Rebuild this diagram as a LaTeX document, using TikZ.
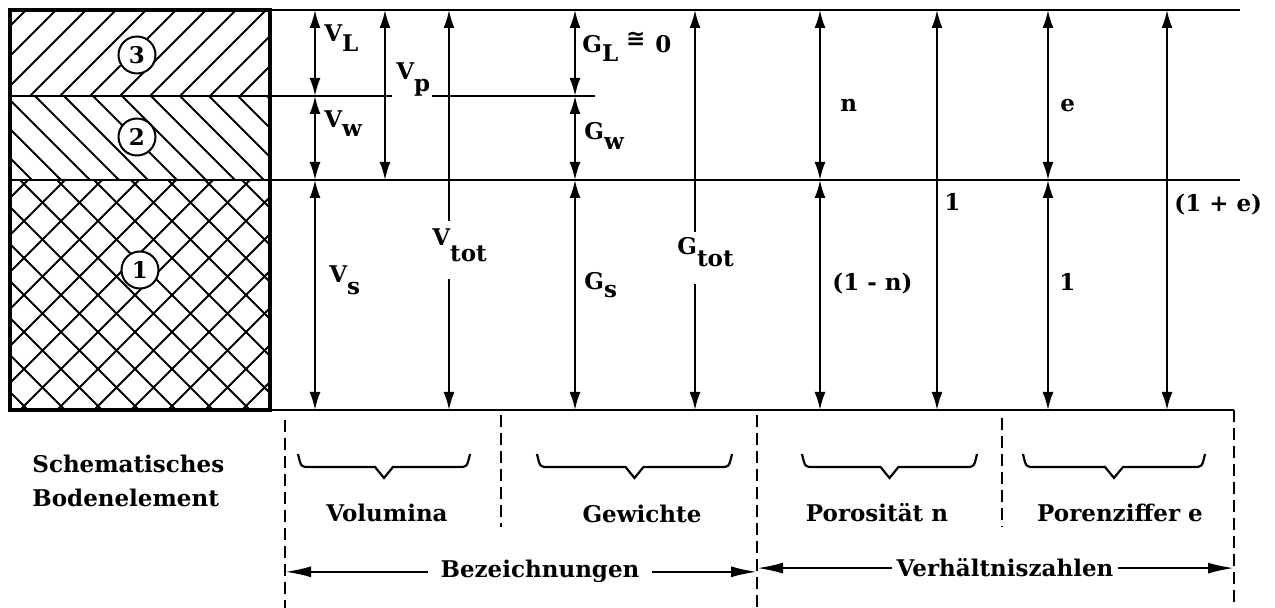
\documentclass[tikz,border=0pt]{standalone}
\usepackage{fontspec}
\setmainfont{DejaVu Serif}
\newfontfamily\symfont{DejaVu Sans}
\usetikzlibrary{arrows.meta}

% lowered index, typed like on the original sheet
\newcommand{\lo}[2][5pt]{\raisebox{-#1}{#2}}

\begin{document}
\begin{tikzpicture}[%
    x=0.5pt, y=-0.5pt,
    >={Latex[length=9pt,width=5.5pt]},
    every node/.style={font=\fontsize{11.5}{17}\selectfont\bfseries, inner sep=1pt},
    rule/.style={line width=1.1pt},
    hatch/.style={line width=1pt},
    dim/.style={<->, line width=1pt},
    part/.style={circle, draw, fill=white, line width=1pt, minimum size=18.5pt, inner sep=0pt},
    sep/.style={line width=1.1pt, dash pattern=on 6pt off 3pt},
    span/.style={-{Latex[length=13pt,width=5.5pt]}, line width=1.1pt}
]
\useasboundingbox (0,0) rectangle (1275,608);

% hatching: air, water, solids
\begin{scope}
    \clip (10,10) rectangle (270,96);
    \foreach \k in {-3,...,10}
        \draw[hatch] (\k*30,96) -- ++(90,-90);
\end{scope}
\begin{scope}
    \clip (10,96) rectangle (270,180);
    \foreach \k in {-4,...,10}
        \draw[hatch] (\k*29,90) -- ++(100,100);
\end{scope}
\begin{scope}
    \clip (10,180) rectangle (270,410);
    \foreach \k in {-7,...,8} {
        \draw[hatch] (\k*37+10,170) -- ++(250,250);
        \draw[hatch] (\k*37+10,420) -- ++(250,-250);
    }
\end{scope}

% soil element
\draw[line width=2.2pt] (10,10) rectangle (270,410);
\node[part] (p3) at (137,55) {3};
\node[part] (p2) at (137,137) {2};
\node[part] (p1) at (140,270) {1};

% level lines
\draw[rule] (270,10) -- (1240,10);
\draw[rule] (10,180) -- (1240,180);
\draw[rule] (270,410) -- (1234,410);
\draw[rule] (10,96) -- (392,96);
\draw[rule] (432,96) -- (595,96);

% columns
\foreach \c/\x in {v/315, vp/385, vt/449, g/575, gt/695, n/820, one/937, e/1048, oe/1167} {
    \coordinate (\c-t) at (\x,10);
    \coordinate (\c-w) at (\x,96);
    \coordinate (\c-m) at (\x,180);
    \coordinate (\c-b) at (\x,410);
}

% labels
\node[anchor=base west] (VL) at (322,42) {V\lo{L}};
\node[anchor=base west] (Vw) at (322,128) {V\lo[4.5pt]{w}};
\node[anchor=base west] (Vs) at (327,283) {V\lo[6pt]{s}};
\node[anchor=base west] (Vp) at (394,80) {V\lo[6pt]{p}};
\node[anchor=base west] (Vtot) at (430,246) {V\lo[8pt]{tot}};
\node[anchor=base west] (GL) at (580,53)
    {G\lo[4.5pt]{L}\hspace{4pt}\raisebox{3pt}{\symfont ≅}\hspace{5pt}0};
\node[anchor=base west] (Gw) at (582,140) {G\lo[5pt]{w}};
\node[anchor=base west] (Gs) at (582,290) {G\lo[4pt]{s}};
\node[anchor=base west] (Gtot) at (675,255) {G\lo[6pt]{tot}};
\node[anchor=base west] (ln) at (838,112) {n};
\node[anchor=base west] (le) at (1058,112) {e};
\node[anchor=base west] (l1n) at (830,291) {(1 - n)};
\node[anchor=base west] (l1a) at (942,211) {1};
\node[anchor=base west] (l1b) at (1057,291) {1};
\node[anchor=base west] (l1e) at (1172,212) {(1 + e)};

% dimension arrows
\foreach \c/\a/\b in {v/t/w, v/w/m, v/m/b, vp/t/m, g/t/w, g/w/m, g/m/b,
                      n/t/m, n/m/b, one/t/b, e/t/m, e/m/b, oe/t/b}
    \draw[dim] (\c-\a) -- (\c-\b);
\draw[->, line width=1pt] ([yshift=3pt]Vtot.north -| vt-t) -- (vt-t);
\draw[->, line width=1pt] ([yshift=-7pt]Vtot.south -| vt-b) -- (vt-b);
\draw[->, line width=1pt] ([yshift=2pt]Gtot.north -| gt-t) -- (gt-t);
\draw[->, line width=1pt] ([yshift=-7pt]Gtot.south -| gt-b) -- (gt-b);

% separators below
\foreach \d/\x/\ya/\yb in {d1/285/420/608, d2/501/415/527, d3/757/415/608,
                           d4/1002/418/527, d5/1234/410/608} {
    \coordinate (\d-t) at (\x,\ya);
    \coordinate (\d-b) at (\x,\yb);
    \draw[sep] (\d-t) -- (\d-b);
}

% braces
\foreach \a/\b in {298/470, 537/732, 802/977, 1023/1205}
    \draw[line width=1.1pt] (\a,454) .. controls (\a+3,467) .. (\a+11,467)
        -- ({(\a+\b)/2-9},467) -- ({(\a+\b)/2},478) -- ({(\a+\b)/2+9},467)
        -- (\b-11,467) .. controls (\b-3,467) .. (\b,454);

\node[anchor=west, align=left] (elem) at (30,481) {Schematisches\\Bodenelement};
\node (vol) at (387,513) {Volumina};
\node (gew) at (642,514) {Gewichte};
\node (por) at (877,513) {Porosität n};
\node (pzf) at (1120,513) {Porenziffer e};

\node[anchor=base, inner xsep=6pt] (bez) at (540,578) {Bezeichnungen};
\node[anchor=base, inner xsep=2pt] (verh) at (1005,577) {Verhältniszahlen};
\draw[span] (bez) -- (bez -| d1-t);
\draw[span] (bez) -- (bez -| d3-t);
\draw[span] (verh) -- (verh -| d3-t);
\draw[span] (verh) -- (verh -| d5-t);

\end{tikzpicture}
\end{document}
